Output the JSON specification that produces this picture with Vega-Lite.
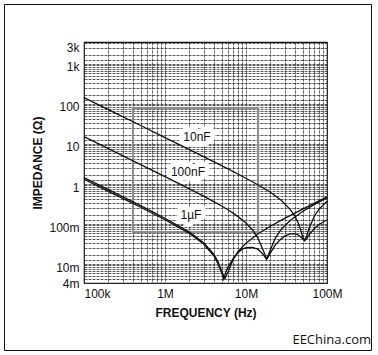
{
  "$schema": "https://vega.github.io/schema/vega-lite/v6.json",
  "width": 243,
  "height": 241,
  "autosize": {"type": "none"},
  "padding": {"left": 84, "top": 42, "right": 51, "bottom": 72},
  "background": "white",
  "config": {
    "view": {"stroke": "#111", "strokeWidth": 1.2},
    "font": "Liberation Sans",
    "axis": {
      "grid": true, "gridDash": [3, 1], "gridColor": "#333", "gridWidth": 0.8,
      "ticks": false, "domain": false,
      "labelFont": "Liberation Sans", "labelFontSize": 12, "labelColor": "#111", "labelPadding": 5,
      "labelFlush": false, "labelOverlap": false,
      "titleFont": "Liberation Sans", "titleFontSize": 12, "titleFontWeight": "bold", "titleColor": "#111"
    },
    "axisX": {"titlePadding": 8},
    "axisY": {"titlePadding": 4}
  },
  "title": {"text": "EEChina.com", "orient": "bottom", "anchor": "end", "frame": "group", "font": "Open Sans", "fontSize": 13, "fontWeight": "normal", "color": "#111", "dx": 44, "offset": -17},
  "datasets": {
    "curves": [
      {"s": "10nF", "f": 100000, "z": 172}, {"s": "10nF", "f": 200000, "z": 86}, {"s": "10nF", "f": 500000, "z": 34.4}, {"s": "10nF", "f": 1000000, "z": 17.2}, {"s": "10nF", "f": 2000000, "z": 8.6}, {"s": "10nF", "f": 5000000, "z": 3.41}, {"s": "10nF", "f": 10000000, "z": 1.66}, {"s": "10nF", "f": 14000000, "z": 1.143}, {"s": "10nF", "f": 20000000, "z": 0.738}, {"s": "10nF", "f": 27000000, "z": 0.472}, {"s": "10nF", "f": 35000000, "z": 0.277}, {"s": "10nF", "f": 40000000, "z": 0.19}, {"s": "10nF", "f": 45000000, "z": 0.116}, {"s": "10nF", "f": 50000000, "z": 0.059}, {"s": "10nF", "f": 53000000, "z": 0.046}, {"s": "10nF", "f": 56000000, "z": 0.058}, {"s": "10nF", "f": 60000000, "z": 0.093}, {"s": "10nF", "f": 70000000, "z": 0.189}, {"s": "10nF", "f": 80000000, "z": 0.279}, {"s": "10nF", "f": 100000000, "z": 0.443},
      {"s": "100nF", "f": 100000, "z": 18.2}, {"s": "100nF", "f": 200000, "z": 9.1}, {"s": "100nF", "f": 500000, "z": 3.64}, {"s": "100nF", "f": 1000000, "z": 1.82}, {"s": "100nF", "f": 2000000, "z": 0.898}, {"s": "100nF", "f": 3000000, "z": 0.59}, {"s": "100nF", "f": 4000000, "z": 0.432}, {"s": "100nF", "f": 5000000, "z": 0.336}, {"s": "100nF", "f": 6000000, "z": 0.27}, {"s": "100nF", "f": 8000000, "z": 0.182}, {"s": "100nF", "f": 10000000, "z": 0.126}, {"s": "100nF", "f": 12000000, "z": 0.0856}, {"s": "100nF", "f": 14000000, "z": 0.0536}, {"s": "100nF", "f": 16000000, "z": 0.0285}, {"s": "100nF", "f": 18000000, "z": 0.016}, {"s": "100nF", "f": 20000000, "z": 0.0269}, {"s": "100nF", "f": 23000000, "z": 0.0528}, {"s": "100nF", "f": 27000000, "z": 0.0864}, {"s": "100nF", "f": 35000000, "z": 0.146}, {"s": "100nF", "f": 50000000, "z": 0.245}, {"s": "100nF", "f": 70000000, "z": 0.368}, {"s": "100nF", "f": 100000000, "z": 0.545},
      {"s": "1uF", "f": 100000, "z": 1.72}, {"s": "1uF", "f": 200000, "z": 0.86}, {"s": "1uF", "f": 500000, "z": 0.344}, {"s": "1uF", "f": 1000000, "z": 0.166}, {"s": "1uF", "f": 2000000, "z": 0.0746}, {"s": "1uF", "f": 3000000, "z": 0.0406}, {"s": "1uF", "f": 4000000, "z": 0.021}, {"s": "1uF", "f": 4500000, "z": 0.0138}, {"s": "1uF", "f": 5000000, "z": 0.0079}, {"s": "1uF", "f": 5500000, "z": 0.0052}, {"s": "1uF", "f": 6000000, "z": 0.0075}, {"s": "1uF", "f": 7000000, "z": 0.0161}, {"s": "1uF", "f": 8000000, "z": 0.0245}, {"s": "1uF", "f": 10000000, "z": 0.0396}, {"s": "1uF", "f": 14000000, "z": 0.0672}, {"s": "1uF", "f": 20000000, "z": 0.105}, {"s": "1uF", "f": 30000000, "z": 0.165}, {"s": "1uF", "f": 50000000, "z": 0.281}, {"s": "1uF", "f": 70000000, "z": 0.395}, {"s": "1uF", "f": 100000000, "z": 0.566},
      {"s": "all", "f": 100000, "z": 1.56}, {"s": "all", "f": 200000, "z": 0.78}, {"s": "all", "f": 500000, "z": 0.312}, {"s": "all", "f": 1000000, "z": 0.152}, {"s": "all", "f": 2000000, "z": 0.0688}, {"s": "all", "f": 3000000, "z": 0.0376}, {"s": "all", "f": 4000000, "z": 0.0192}, {"s": "all", "f": 4500000, "z": 0.0124}, {"s": "all", "f": 5000000, "z": 0.0072}, {"s": "all", "f": 5300000, "z": 0.005}, {"s": "all", "f": 5600000, "z": 0.0072}, {"s": "all", "f": 6000000, "z": 0.01}, {"s": "all", "f": 7000000, "z": 0.0168}, {"s": "all", "f": 8000000, "z": 0.0232}, {"s": "all", "f": 9000000, "z": 0.028}, {"s": "all", "f": 10000000, "z": 0.0304}, {"s": "all", "f": 12000000, "z": 0.0312}, {"s": "all", "f": 14000000, "z": 0.028}, {"s": "all", "f": 16000000, "z": 0.0216}, {"s": "all", "f": 18000000, "z": 0.0156}, {"s": "all", "f": 20000000, "z": 0.0224}, {"s": "all", "f": 23000000, "z": 0.036}, {"s": "all", "f": 27000000, "z": 0.0504}, {"s": "all", "f": 30000000, "z": 0.0592}, {"s": "all", "f": 35000000, "z": 0.0672}, {"s": "all", "f": 40000000, "z": 0.0688}, {"s": "all", "f": 45000000, "z": 0.0624}, {"s": "all", "f": 50000000, "z": 0.052}, {"s": "all", "f": 53000000, "z": 0.0464}, {"s": "all", "f": 56000000, "z": 0.0504}, {"s": "all", "f": 60000000, "z": 0.064}, {"s": "all", "f": 70000000, "z": 0.092}, {"s": "all", "f": 80000000, "z": 0.116}, {"s": "all", "f": 100000000, "z": 0.152}
    ],
    "labels": [
      {"label": "10nF", "f": 2480000, "z": 17.9},
      {"label": "100nF", "f": 1920000, "z": 2.38},
      {"label": "1µF", "f": 2090000, "z": 0.2}
    ]
  },
  "layer": [
    {
      "data": {"values": [{}]},
      "mark": {"type": "rect", "filled": false, "color": "#8c8c8c", "strokeWidth": 2},
      "encoding": {
        "x": {"datum": 403000, "type": "quantitative", "scale": {"type": "log", "domain": [100000, 100000000], "nice": false}, "axis": {"title": "FREQUENCY (Hz)"}},
        "x2": {"datum": 14100000},
        "y": {"datum": 94.8, "type": "quantitative", "scale": {"type": "log", "domain": [0.004, 4200], "nice": false}, "axis": {"title": "IMPEDANCE (Ω)"}},
        "y2": {"datum": 0.0754}
      }
    },
    {
      "data": {"name": "labels"},
      "mark": {"type": "text", "font": "Liberation Sans", "fontSize": 12, "stroke": "white", "strokeWidth": 10, "strokeJoin": "round", "fill": "white"},
      "encoding": {
        "x": {"field": "f", "type": "quantitative", "scale": {"type": "log", "domain": [100000, 100000000], "nice": false}, "axis": {"title": "FREQUENCY (Hz)"}},
        "y": {"field": "z", "type": "quantitative", "scale": {"type": "log", "domain": [0.004, 4200], "nice": false}, "axis": {"title": "IMPEDANCE (Ω)"}},
        "text": {"field": "label"}
      }
    },
    {
      "data": {"name": "curves"},
      "mark": {"type": "line", "color": "#111", "strokeWidth": 1.3},
      "encoding": {
        "detail": {"field": "s"},
        "x": {
          "field": "f", "type": "quantitative",
          "scale": {"type": "log", "domain": [100000, 100000000], "nice": false},
          "axis": {
            "title": "FREQUENCY (Hz)",
            "values": [100000, 200000, 300000, 400000, 500000, 600000, 700000, 800000, 900000, 1000000, 2000000, 3000000, 4000000, 5000000, 6000000, 7000000, 8000000, 9000000, 10000000, 20000000, 30000000, 40000000, 50000000, 60000000, 70000000, 80000000, 90000000, 100000000],
            "labelExpr": "datum.value == 100000 ? '100k' : datum.value == 1000000 ? '1M' : datum.value == 10000000 ? '10M' : datum.value == 100000000 ? '100M' : ''",
            "labelAlign": {"condition": {"test": "datum.value == 100000", "value": "left"}, "value": "center"}
          }
        },
        "y": {
          "field": "z", "type": "quantitative",
          "scale": {"type": "log", "domain": [0.004, 4200], "nice": false},
          "axis": {
            "title": "IMPEDANCE (Ω)",
            "values": [0.004, 0.005, 0.006, 0.007, 0.008, 0.009, 0.01, 0.011, 0.012, 0.015, 0.02, 0.03, 0.04, 0.05, 0.06, 0.07, 0.08, 0.09, 0.1, 0.11, 0.12, 0.15, 0.2, 0.3, 0.4, 0.5, 0.6, 0.7, 0.8, 0.9, 1, 1.1, 1.2, 1.5, 2, 3, 4, 5, 6, 7, 8, 9, 10, 11, 12, 15, 20, 30, 40, 50, 60, 70, 80, 90, 100, 110, 120, 150, 200, 300, 400, 500, 600, 700, 800, 900, 1000, 1100, 1200, 1500, 2000, 3000, 4000],
            "labelExpr": "datum.value == 3000 ? '3k' : datum.value == 1000 ? '1k' : datum.value == 100 ? '100' : datum.value == 10 ? '10' : datum.value == 1 ? '1' : datum.value == 0.1 ? '100m' : datum.value == 0.01 ? '10m' : datum.value == 0.004 ? '4m' : ''"
          }
        }
      }
    },
    {
      "data": {"name": "labels"},
      "mark": {"type": "text", "font": "Liberation Sans", "fontSize": 12, "color": "#111"},
      "encoding": {
        "x": {"field": "f", "type": "quantitative", "scale": {"type": "log", "domain": [100000, 100000000], "nice": false}, "axis": {"title": "FREQUENCY (Hz)"}},
        "y": {"field": "z", "type": "quantitative", "scale": {"type": "log", "domain": [0.004, 4200], "nice": false}, "axis": {"title": "IMPEDANCE (Ω)"}},
        "text": {"field": "label"}
      }
    },
    {
      "data": {"values": [{}]},
      "mark": {"type": "rect", "filled": false, "color": "#111", "strokeWidth": 1},
      "encoding": {
        "x": {"datum": 10435, "type": "quantitative", "scale": {"type": "log", "domain": [100000, 100000000], "nice": false}, "axis": {"title": "FREQUENCY (Hz)"}},
        "x2": {"datum": 354300000},
        "y": {"datum": 36320, "type": "quantitative", "scale": {"type": "log", "domain": [0.004, 4200], "nice": false}, "axis": {"title": "IMPEDANCE (Ω)"}},
        "y2": {"datum": 0.00008235}
      }
    }
  ]
}
